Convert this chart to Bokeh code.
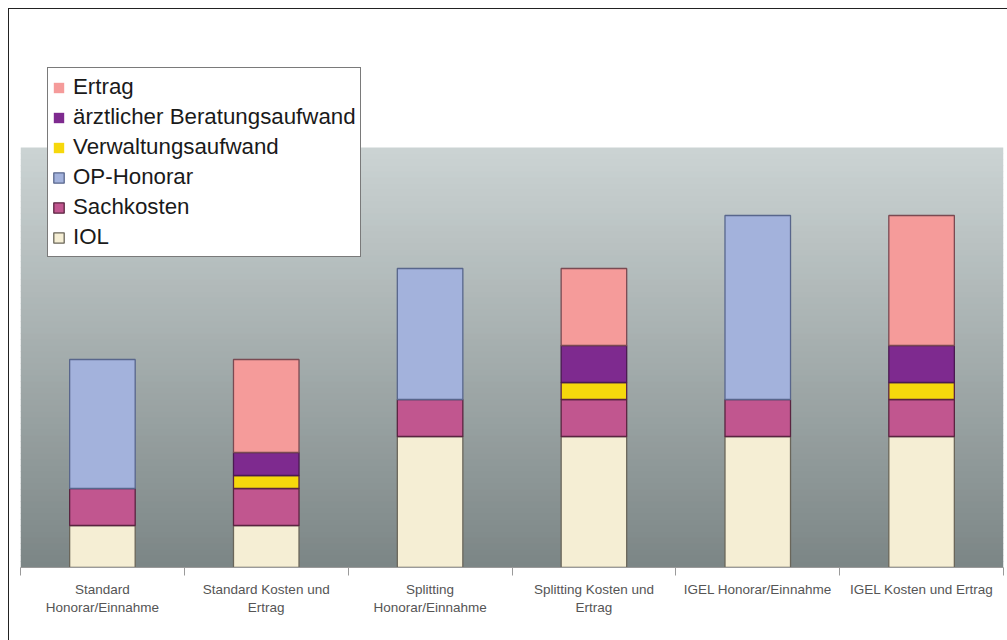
from bokeh.plotting import figure
from bokeh.models import Range1d, FixedTicker, Legend, LegendItem, ColumnDataSource
from bokeh.embed import file_html
from bokeh.resources import INLINE

# ---- data (arbitrary units) ----
categories = [
    "Standard\nHonorar/Einnahme",
    "Standard Kosten und\nErtrag",
    "Splitting\nHonorar/Einnahme",
    "Splitting Kosten und\nErtrag",
    "IGEL Honorar/Einnahme",
    "IGEL Kosten und Ertrag",
]
iol = [42, 42, 131, 131, 131, 131]
sachkosten = [37, 37, 37, 37, 37, 37]
op_honorar = [129, 0, 131, 0, 184, 0]
verwaltung = [0, 13, 0, 17, 0, 17]
aerztlich = [0, 23, 0, 37, 0, 37]
ertrag = [0, 93, 0, 77, 0, 130]

series = ["IOL", "Sachkosten", "OP-Honorar", "Verwaltungsaufwand",
          "ärztlicher Beratungsaufwand", "Ertrag"]
fill_colors = ["#f5eed4", "#c1568f", "#a3b2dc", "#f6d80c", "#7e2a8f", "#f59b9a"]
line_colors = ["#6a665a", "#5a2440", "#58668c", "#5a2440", "#4a1a50", "#7a4a52"]
legend_order = ["Ertrag", "ärztlicher Beratungsaufwand", "Verwaltungsaufwand",
                "OP-Honorar", "Sachkosten", "IOL"]

n = len(categories)
xs = [i + 0.5 for i in range(n)]
plot_h = 420      # height of the grey plot area (in value units = px)
frame_h = 510     # frame extends above grey area to hold the legend

values = {"IOL": iol, "Sachkosten": sachkosten, "OP-Honorar": op_honorar,
          "Verwaltungsaufwand": verwaltung,
          "ärztlicher Beratungsaufwand": aerztlich, "Ertrag": ertrag}
data = dict(x=xs)
for s in series:
    data[s] = values[s]
    data[s + "_la"] = [1.0 if v > 0 else 0.0 for v in values[s]]
src = ColumnDataSource(data)

p = figure(width=1007, height=640, output_backend="svg", toolbar_location=None,
           x_range=Range1d(0, n), y_range=Range1d(0, frame_h),
           y_axis_location=None, tools="",
           min_border_left=20, min_border_right=4,
           min_border_top=640 - 73 - frame_h, min_border_bottom=73)
p.background_fill_color = "white"
p.border_fill_color = None
p.outline_line_color = None
p.xgrid.visible = False
p.ygrid.visible = False
p.styles = {
    "background": "linear-gradient(#222,#222) 8px 8px / 1px 100% no-repeat, "
                  "linear-gradient(#222,#222) 8px 8px / 100% 1px no-repeat, white"
}

# background gradient of the plot area (style only)
steps = 70
top_c = (203, 211, 211)
bot_c = (124, 134, 134)
bottoms, tops, cols = [], [], []
for k in range(steps):
    t = k / (steps - 1)
    c = tuple(int(round(bot_c[j] + (top_c[j] - bot_c[j]) * t)) for j in range(3))
    bottoms.append(plot_h * k / steps)
    tops.append(min(plot_h, plot_h * (k + 1) / steps + 0.5))
    cols.append("#%02x%02x%02x" % c)
p.quad(left=0, right=n, bottom=bottoms, top=tops, fill_color=cols, line_color=None)

renderers = p.vbar_stack(series, x="x", width=0.4, source=src,
                         fill_color=fill_colors, line_color=line_colors,
                         line_alpha=[s + "_la" for s in series],
                         line_width=1.3)
rmap = dict(zip(series, renderers))

legend = Legend(items=[LegendItem(label=s, renderers=[rmap[s]]) for s in legend_order],
                location=(27, 310))
legend.margin = 0
legend.padding = 4
legend.spacing = 0
legend.glyph_width = 13
legend.glyph_height = 13
legend.label_height = 30
legend.label_standoff = 8
legend.label_text_font = "Liberation Sans"
legend.label_text_font_size = "22.3px"
legend.label_text_color = "#1a1a1a"
legend.border_line_color = "#7a7a7a"
legend.border_line_alpha = 1.0
legend.border_line_width = 1.5
legend.background_fill_color = "white"
legend.background_fill_alpha = 1.0
p.add_layout(legend, "center")

ax = p.xaxis[0]
ax.ticker = FixedTicker(ticks=xs, minor_ticks=list(range(n + 1)))
ax.major_label_overrides = {x: c for x, c in zip(xs, categories)}
ax.major_tick_line_color = None
ax.major_tick_out = 0
ax.major_tick_in = 0
ax.minor_tick_out = 8
ax.minor_tick_in = 0
ax.minor_tick_line_color = "#9a9a9a"
ax.axis_line_color = "#9a9a9a"
ax.axis_line_width = 1
ax.major_label_standoff = 6
ax.major_label_text_font = "Liberation Sans"
ax.major_label_text_font_size = "13.5px"
ax.major_label_text_color = "#555555"

open("out.html", "w").write(file_html(p, INLINE))
